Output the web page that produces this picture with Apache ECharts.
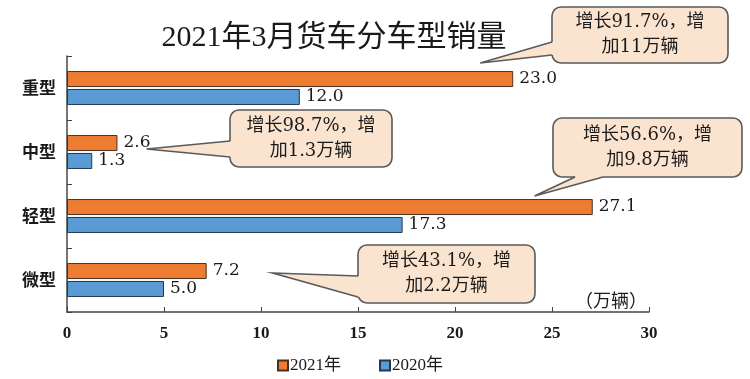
<!DOCTYPE html>
<html>
<head>
<meta charset="utf-8">
<script src="https://cdn.jsdelivr.net/npm/echarts@6/dist/echarts.min.js"></script>
<style>
html,body{margin:0;padding:0;background:#fff;}
#chart{width:750px;height:379px;}
</style>
</head>
<body>
<div id="chart"></div>
<script>
// ---- data ----
const titleText = '2021年3月货车分车型销量';
const categories = ['重型', '中型', '轻型', '微型'];
const seriesNames = ['2021年', '2020年'];
const values2021 = [23.0, 2.6, 27.1, 7.2];
const values2020 = [12.0, 1.3, 17.3, 5.0];
const unitLabel = '（万辆）';
const calloutTexts = [
  ['增长91.7%，增', '加11万辆'],
  ['增长98.7%，增', '加1.3万辆'],
  ['增长56.6%，增', '加9.8万辆'],
  ['增长43.1%，增', '加2.2万辆']
];

const ORANGE = '#EE7D31';
const BLUE = '#5B9BD5';
const TEXT = '#1a1a1a';
const SERIF = "'DejaVu Serif','Noto Sans CJK SC'";
const CJK = "'Noto Sans CJK SC'";

const chart = echarts.init(document.getElementById('chart'));

const labelCfg = {
  show: true,
  position: 'right',
  distance: 6,
  color: TEXT,
  fontSize: 17,
  fontFamily: SERIF,
  formatter: p => p.value.toFixed(1)
};

chart.setOption({
  animation: false,
  backgroundColor: '#fff',
  title: {
    text: titleText,
    left: 329,
    top: 18,
    textAlign: 'center',
    textStyle: { fontSize: 30, fontWeight: 'normal', color: TEXT, fontFamily: "'Liberation Serif','Noto Sans CJK SC'" }
  },
  legend: {
    data: seriesNames,
    left: 272,
    top: 352,
    itemWidth: 10,
    itemHeight: 10,
    itemGap: 38,
    icon: 'rect',
    textStyle: { fontSize: 17, color: TEXT, fontFamily: "'Liberation Serif','Noto Sans CJK SC'", padding: [0,0,0,-3] }
  },
  grid: { left: 67, right: 101, top: 56, bottom: 67, containLabel: false },
  xAxis: {
    type: 'value',
    min: 0, max: 30, interval: 5,
    axisLine: { show: true, lineStyle: { color: '#444', width: 1.5 } },
    axisTick: { show: true, inside: true, length: 5, lineStyle: { color: '#444' } },
    splitLine: { show: false },
    axisLabel: { fontSize: 17, color: TEXT, margin: 13, fontWeight: 'bold', fontFamily: "'Liberation Serif'" }
  },
  yAxis: {
    type: 'category',
    data: categories,
    inverse: true,
    axisLine: { show: true, lineStyle: { color: '#444', width: 1.5 } },
    axisTick: { show: true, inside: true, length: 5, lineStyle: { color: '#444' } },
    axisLabel: { fontSize: 17, color: TEXT, margin: 11, fontWeight: 'bold', fontFamily: CJK }
  },
  series: [
    {
      name: seriesNames[0], type: 'bar', data: values2021,
      barWidth: 16, barGap: '12%',
      itemStyle: { color: ORANGE, borderColor: '#4a3020', borderWidth: 1 },
      label: labelCfg
    },
    {
      name: seriesNames[1], type: 'bar', data: values2020,
      barWidth: 16,
      itemStyle: { color: BLUE, borderColor: '#24364a', borderWidth: 1 },
      label: labelCfg
    }
  ]
});

// ---- callouts (annotation placement) ----
const calloutLayout = [
  { box: [552, 7, 176, 56],  tipVal: 21.3, cat: 0, tipDy: -25, edge: 'left',   base: [42, 55] },
  { box: [230, 110, 162, 57], tipVal: 4.1,  cat: 1, tipDy: -3,  edge: 'left',   base: [141, 157] },
  { box: [553, 118, 189, 59], tipVal: 24.1, cat: 2, tipDy: -20, edge: 'bottom', base: [575, 603] },
  { box: [358, 245, 177, 58], tipVal: 10.6, cat: 3, tipDy: -7,  edge: 'left',   base: [276, 297] }
];

const graphics = [];
calloutLayout.forEach((c, i) => {
  const tx = chart.convertToPixel({ xAxisIndex: 0 }, c.tipVal);
  const ty = chart.convertToPixel({ yAxisIndex: 0 }, categories[c.cat]) + c.tipDy;
  const [bx, by, bw, bh] = c.box;
  let b1, b2, b1i, b2i;
  if (c.edge === 'left') {
    b1 = [bx, c.base[0]]; b2 = [bx, c.base[1]];
    b1i = [bx + 4, c.base[0] + 1]; b2i = [bx + 4, c.base[1] - 1];
  } else {
    b1 = [c.base[0], by + bh]; b2 = [c.base[1], by + bh];
    b1i = [c.base[0] + 1, by + bh - 4]; b2i = [c.base[1] - 1, by + bh - 4];
  }
  const fill = '#FAE3CF';
  const stroke = '#5a5a5a';
  graphics.push({
    type: 'rect', z: 100,
    shape: { x: bx, y: by, width: bw, height: bh, r: 9 },
    style: { fill: fill, stroke: stroke, lineWidth: 1.6 }
  });
  graphics.push({
    type: 'polygon', z: 101,
    shape: { points: [[tx, ty], b1, b1i, b2i, b2] },
    style: { fill: fill, stroke: null }
  });
  graphics.push({
    type: 'polyline', z: 102,
    shape: { points: [b1, [tx, ty], b2] },
    style: { stroke: stroke, lineWidth: 1.6, fill: null }
  });
  graphics.push({
    type: 'text', z: 103,
    x: bx + bw / 2, y: by + bh / 2,
    style: {
      text: calloutTexts[i].join('\n'),
      align: 'center', verticalAlign: 'middle',
      fontSize: 18, lineHeight: 25, fill: TEXT, fontFamily: SERIF
    }
  });
});

graphics.push({
  type: 'text', z: 103,
  x: 647, y: 300,
  style: { text: unitLabel, align: 'right', verticalAlign: 'middle', fontSize: 18, fill: TEXT, fontFamily: CJK }
});

chart.setOption({ graphic: graphics });
</script>
</body>
</html>
